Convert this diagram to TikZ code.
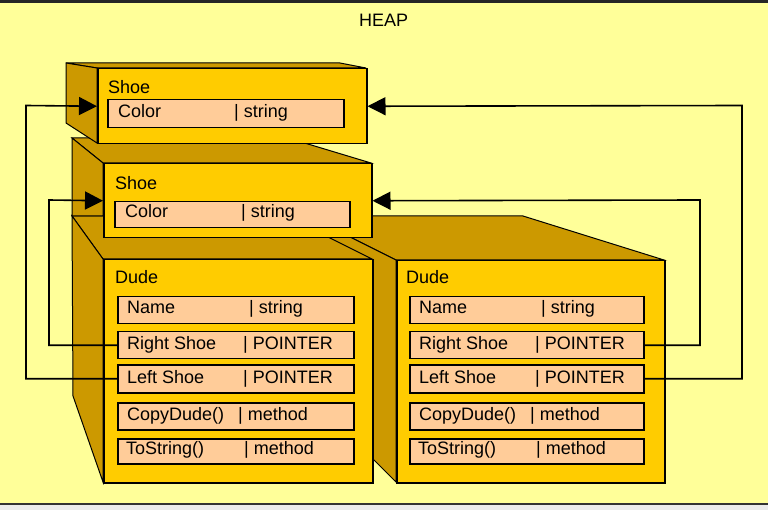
\documentclass[tikz,border=0pt]{standalone}
\usepackage{fontspec}
\setmainfont{Liberation Sans}
\usetikzlibrary{arrows.meta}
\definecolor{bgc}{HTML}{FFFF99}
\definecolor{frontc}{HTML}{FFCC00}
\definecolor{sidec}{HTML}{CC9900}
\definecolor{fieldc}{HTML}{FFCC99}
\tikzset{
  front/.style={draw=black, line width=1.5pt, fill=frontc, rectangle, inner sep=0pt, anchor=north west},
  fieldbox/.style={draw=black, line width=1.5pt, fill=fieldc, rectangle, inner sep=0pt, anchor=north west},
  sideface/.style={draw=black, line width=1pt, fill=sidec, line join=miter},
  lbl/.style={anchor=base west, inner sep=0pt, font=\fontsize{18}{21}\selectfont},
  ptr/.style={draw=black, line width=1.6pt, -{Triangle[length=18pt,width=18pt]}}
}
\newcommand\fieldrow[9]{%
  \node[fieldbox, minimum width=#4pt, minimum height=#5pt] (#1) at (#2,#3) {};
  \node[lbl] (#1-l) at (#7,#3+#5-9) {#6};
  \node[lbl] (#1-r) at (#8,#3+#5-9) {#9};
}
\begin{document}
\begin{tikzpicture}[x=1pt,y=-1pt]
\useasboundingbox (0,0) rectangle (768,510);
% background
\fill[bgc] (0,0) rectangle (768,510);
\fill[black!85] (0,0) rectangle (768,3.5);
\fill[black!80] (0,502.5) rectangle (768,505);
\fill[black!8] (0,505) rectangle (768,510);
\node[lbl] (heap) at (359,27) {HEAP};

% ---------- Dude 2 ----------
\draw[sideface] (308,216) -- (523,216) -- (664,260) -- (396,260) -- cycle;
\draw[sideface] (308,216) -- (396,260) -- (396,482) -- (372,458) -- (308,458) -- cycle;
\node[front, minimum width=268pt, minimum height=222pt] (d2) at (396,260) {};
\node[lbl] (d2t) at (406,284) {Dude};
\fieldrow{d2n}{409}{296}{234}{27}{Name}{419}{541}{| string}
\fieldrow{d2r}{409}{331}{234}{27}{Right Shoe}{419}{535}{| POINTER}
\fieldrow{d2l}{409}{364}{234}{28}{Left Shoe}{419}{535}{| POINTER}
\fieldrow{d2c}{409}{402}{234}{27}{CopyDude()}{419}{530}{| method}
\fieldrow{d2s}{409}{438}{234}{25}{ToString()}{418}{536}{| method}

% ---------- Dude 1 ----------
\draw[sideface] (72,216) -- (286,216) -- (372,259) -- (103,259) -- cycle;
\draw[sideface] (72,216) -- (103,259) -- (103,482) -- (73,396) -- cycle;
\node[front, minimum width=269pt, minimum height=223pt] (d1) at (103,259) {};
\node[lbl] (d1t) at (115,284) {Dude};
\fieldrow{d1n}{117}{296}{236}{27}{Name}{127}{249}{| string}
\fieldrow{d1r}{117}{331}{236}{27}{Right Shoe}{127}{243}{| POINTER}
\fieldrow{d1l}{117}{364}{236}{28}{Left Shoe}{127}{243}{| POINTER}
\fieldrow{d1c}{117}{402}{236}{27}{CopyDude()}{127}{238}{| method}
\fieldrow{d1s}{117}{438}{236}{25}{ToString()}{126}{244}{| method}

% ---------- Shoe 2 ----------
\draw[sideface] (72,138) -- (288,138) -- (371,163) -- (103,163) -- cycle;
\draw[sideface] (72,138) -- (103,163) -- (103,216) -- (72,216) -- cycle;
\node[front, minimum width=268pt, minimum height=74pt] (s2) at (103,163) {};
\node[lbl] (s2t) at (115,190) {Shoe};
\fieldrow{s2c}{114}{201}{235}{26}{Color}{125}{241}{| string}

% ---------- Shoe 1 ----------
\draw[sideface] (66,63) -- (340,63) -- (366,68) -- (97,68) -- cycle;
\draw[sideface] (66,63) -- (97,68) -- (97,143) -- (66,123) -- cycle;
\node[front, minimum width=269pt, minimum height=75pt] (s1) at (97,68) {};
\node[lbl] (s1t) at (108,94) {Shoe};
\fieldrow{s1c}{107}{99}{236}{28}{Color}{118}{234}{| string}

% ---------- pointers ----------
\coordinate (k1) at (26,105.5);
\coordinate (k2) at (49,200);
\coordinate (k3) at (700,200);
\coordinate (k4) at (742,105.5);
\draw[ptr] (d1l.west) -| (k1) -- (s1.west);
\draw[ptr] (d1r.west) -| (k2) -- (s2.west);
\draw[ptr] (d2r.east) -| (k3) -- (s2.east);
\draw[ptr] (d2l.east) -| (k4) -- (s1.east);
\end{tikzpicture}
\end{document}
